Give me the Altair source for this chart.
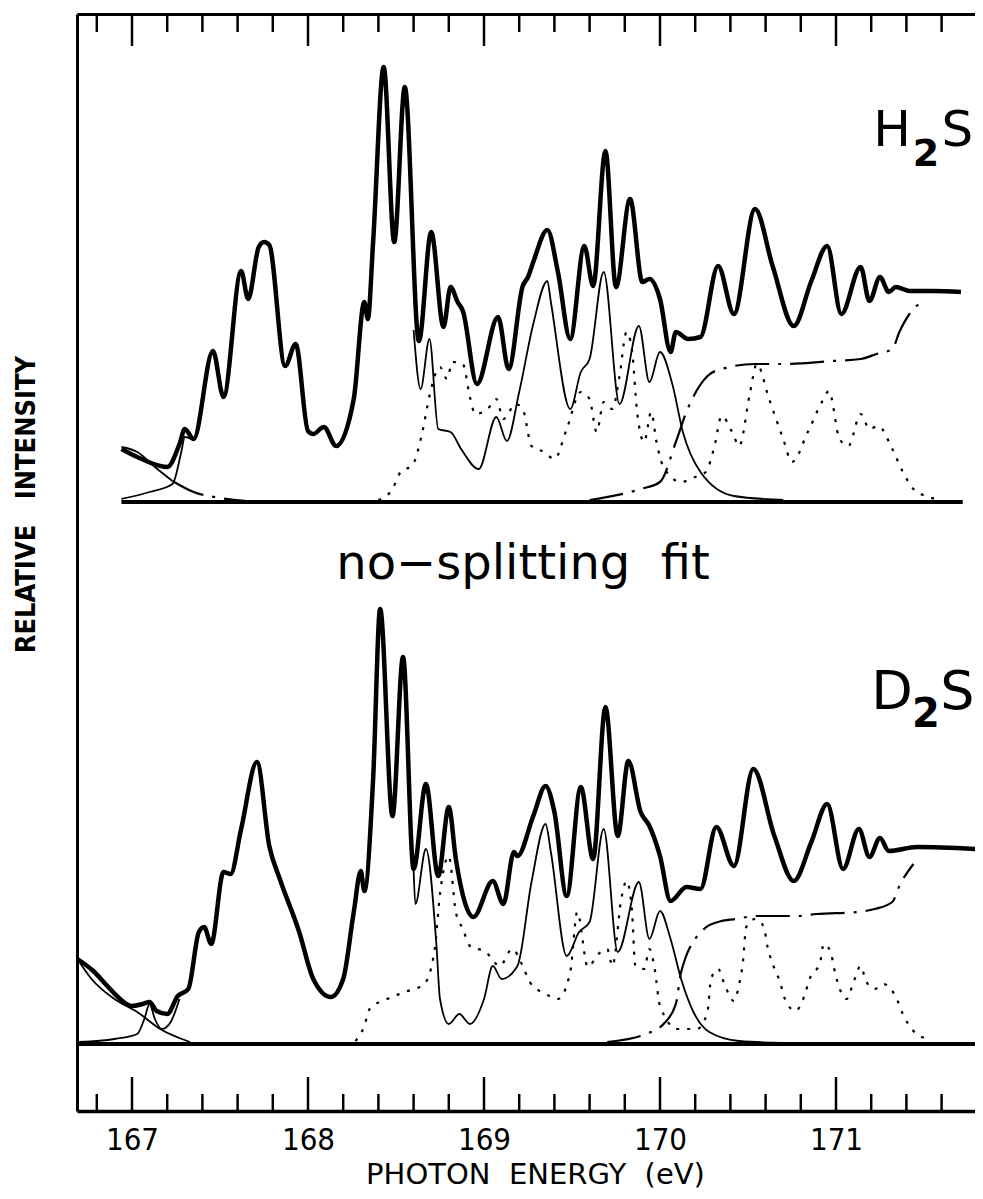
import altair as alt
import pandas as pd

# ---------------- data ----------------
# heights above each spectrum's own baseline (arbitrary units), photon energy in eV
UPPER_OFFSET = 542  # vertical offset of the H2S spectrum

# H2S experimental spectrum (thick)
h2s_E = [166.94, 167.03, 167.20, 167.27, 167.30, 167.35, 167.46, 167.52, 167.62, 167.66,
         167.72, 167.75, 167.78, 167.87, 167.93, 168.00, 168.03, 168.09, 168.16, 168.26,
         168.32, 168.34, 168.37, 168.43, 168.49, 168.55, 168.63, 168.70, 168.77, 168.81,
         168.85, 168.88, 168.96, 169.08, 169.14, 169.22, 169.25, 169.28, 169.36, 169.42,
         169.49, 169.57, 169.62, 169.69, 169.75, 169.83, 169.90, 169.94, 170.00, 170.06,
         170.09, 170.16, 170.23, 170.33, 170.42, 170.54, 170.64, 170.76, 170.86, 170.95,
         171.03, 171.14, 171.19, 171.25, 171.30, 171.34, 171.42, 171.55, 171.71]
h2s_I = [53, 45, 35, 58, 73, 63, 151, 105, 231, 203,
         255, 260, 257, 136, 158, 71, 68, 75, 56, 103,
         200, 183, 260, 435, 260, 415, 161, 270, 175, 215,
         200, 191, 118, 185, 133, 216, 225, 240, 272, 230,
         163, 256, 216, 351, 215, 303, 220, 223, 203, 150,
         170, 163, 165, 236, 188, 293, 236, 176, 221, 256,
         188, 235, 201, 225, 210, 215, 211, 211, 210]

# H2S thin solid component (left piece and right piece)
h2s_thinA_E = [166.94, 167.10, 167.23, 167.28, 167.30, 167.35]
h2s_thinA_I = [3, 10, 18, 50, 65, 62]
h2s_thinB_E = [168.60, 168.64, 168.69, 168.74, 168.81, 168.87, 168.97, 169.07, 169.13, 169.20,
               169.28, 169.36, 169.38, 169.49, 169.55, 169.60, 169.68, 169.77, 169.88, 169.94,
               170.00, 170.07, 170.13, 170.23, 170.42, 170.70]
h2s_thinB_I = [172, 113, 163, 73, 70, 53, 33, 85, 61, 110,
               178, 221, 200, 93, 130, 143, 230, 98, 176, 120,
               150, 118, 70, 30, 6, 2]

# H2S background tail on the left (thin solid then dash-dot)
h2s_bg_E = [166.94, 167.03, 167.13, 167.23]
h2s_bg_I = [55, 50, 35, 21]
h2s_bgtail_E = [167.23, 167.35, 167.50, 167.65]
h2s_bgtail_I = [21, 10, 4, 1]

# H2S dotted component
h2s_dot_E = [168.40, 168.48, 168.53, 168.59, 168.65, 168.69, 168.75, 168.79, 168.82, 168.88,
             168.92, 168.95, 169.02, 169.07, 169.11, 169.18, 169.22, 169.27, 169.34, 169.40,
             169.47, 169.55, 169.60, 169.64, 169.68, 169.73, 169.77, 169.81, 169.84, 169.87,
             169.91, 169.95, 169.98, 170.02, 170.12, 170.20, 170.26, 170.31, 170.35, 170.41,
             170.45, 170.51, 170.55, 170.62, 170.70, 170.75, 170.84, 170.92, 170.96, 171.02,
             171.07, 171.14, 171.19, 171.24, 171.32, 171.38, 171.44, 171.51, 171.60]
h2s_dot_I = [2, 13, 31, 36, 70, 106, 135, 123, 140, 138,
             105, 88, 93, 103, 83, 98, 93, 56, 50, 43,
             73, 110, 103, 70, 100, 93, 126, 170, 153, 90,
             60, 90, 60, 35, 20, 25, 30, 56, 86, 70,
             56, 108, 138, 103, 63, 40, 70, 100, 111, 63,
             56, 88, 73, 76, 53, 30, 13, 6, 2]

# H2S dash-dot ionisation edge
h2s_edge_E = [169.60, 169.89, 170.00, 170.09, 170.15, 170.27, 170.35, 170.54, 170.70, 170.98,
              171.14, 171.23, 171.32, 171.36, 171.44, 171.51]
h2s_edge_I = [2, 13, 20, 60, 90, 126, 133, 138, 138, 141,
              143, 148, 153, 170, 193, 201]

# D2S experimental spectrum (thick)
d2s_E = [166.69, 166.78, 166.86, 166.92, 167.00, 167.06, 167.10, 167.14, 167.20, 167.26,
         167.32, 167.38, 167.41, 167.45, 167.52, 167.56, 167.62, 167.71, 167.78, 167.84,
         167.95, 168.03, 168.13, 168.20, 168.26, 168.30, 168.32, 168.37, 168.41, 168.48,
         168.54, 168.60, 168.67, 168.74, 168.80, 168.84, 168.94, 169.05, 169.11, 169.17,
         169.19, 169.28, 169.35, 169.40, 169.47, 169.55, 169.62, 169.69, 169.76, 169.82,
         169.89, 169.94, 170.00, 170.06, 170.15, 170.23, 170.32, 170.42, 170.53, 170.65,
         170.76, 170.86, 170.95, 171.04, 171.13, 171.19, 171.25, 171.30, 171.46, 171.80]
d2s_I = [85, 73, 58, 47, 38, 40, 42, 33, 30, 48,
         55, 112, 117, 100, 172, 170, 215, 282, 198, 165,
         112, 65, 47, 65, 132, 173, 153, 265, 435, 228,
         387, 175, 260, 168, 237, 185, 127, 163, 140, 192,
         188, 228, 258, 232, 148, 257, 185, 337, 208, 283,
         232, 218, 188, 143, 157, 155, 217, 178, 275, 208,
         163, 202, 240, 175, 215, 187, 206, 193, 197, 195]

# D2S thin solid component
d2s_thinA_E = [166.70, 166.90, 167.03, 167.07, 167.10, 167.13, 167.17, 167.22, 167.27]
d2s_thinA_I = [2, 5, 10, 25, 40, 25, 15, 22, 45]
d2s_thinB_E = [168.60, 168.61, 168.67, 168.73, 168.75, 168.80, 168.86, 168.92, 169.00, 169.05,
               169.10, 169.19, 169.27, 169.35, 169.38, 169.47, 169.54, 169.60, 169.68, 169.76,
               169.88, 169.94, 170.00, 170.06, 170.12, 170.19, 170.28, 170.45, 170.70]
d2s_thinB_I = [175, 140, 195, 98, 45, 20, 30, 20, 45, 78,
               65, 78, 162, 220, 192, 88, 112, 122, 215, 92,
               162, 105, 133, 105, 65, 32, 12, 3, 1]

# D2S background tail on the left
d2s_bg_E = [166.69, 166.77, 166.90, 167.03, 167.16, 167.33]
d2s_bg_I = [85, 65, 45, 32, 15, 2]

# D2S dotted component
d2s_dot_E = [168.27, 168.32, 168.35, 168.45, 168.55, 168.66, 168.72, 168.75, 168.80, 168.84,
             168.88, 168.92, 169.01, 169.09, 169.16, 169.22, 169.26, 169.35, 169.42, 169.49,
             169.53, 169.59, 169.65, 169.70, 169.73, 169.78, 169.81, 169.84, 169.86, 169.91,
             169.94, 169.97, 170.00, 170.10, 170.21, 170.27, 170.29, 170.33, 170.37, 170.42,
             170.45, 170.47, 170.49, 170.54, 170.59, 170.61, 170.64, 170.68, 170.71, 170.77,
             170.82, 170.85, 170.91, 170.93, 170.97, 170.99, 171.06, 171.10, 171.14, 171.17,
             171.22, 171.27, 171.34, 171.38, 171.43, 171.52]
d2s_dot_I = [3, 18, 35, 45, 52, 60, 95, 150, 188, 132,
             115, 98, 92, 78, 95, 78, 62, 50, 45, 72,
             132, 77, 90, 95, 78, 145, 163, 135, 78, 75,
             95, 75, 38, 15, 15, 32, 65, 75, 58, 43,
             60, 80, 117, 125, 117, 98, 80, 63, 45, 33,
             48, 65, 82, 100, 92, 75, 45, 62, 78, 63,
             55, 60, 47, 30, 15, 5]

# D2S dash-dot ionisation edge
d2s_edge_E = [169.70, 169.92, 170.02, 170.09, 170.12, 170.25, 170.33, 170.43, 170.55, 170.78,
              170.89, 171.12, 171.22, 171.32, 171.36, 171.44]
d2s_edge_I = [2, 10, 20, 40, 72, 115, 122, 125, 128, 128,
              130, 132, 135, 142, 158, 180]

# zero lines
h2s_zero_E = [166.94, 171.72]
d2s_zero_E = [166.69, 171.80]

# axis ticks (eV)
major_ticks = [167, 168, 169, 170, 171]
minor_ticks = [166.8, 167.2, 167.4, 167.6, 167.8, 168.2, 168.4, 168.6, 168.8,
               169.2, 169.4, 169.6, 169.8, 170.2, 170.4, 170.6, 170.8, 171.2,
               171.4, 171.6]

# ---------------- build tables ----------------
rows = []


def add(E, I, style, seg, off):
    for e, i in zip(E, I):
        rows.append({"E": e, "I": i + off, "style": style, "seg": seg})


add(h2s_E, h2s_I, "data", "h_data", UPPER_OFFSET)
add(h2s_thinA_E, h2s_thinA_I, "thin", "h_thinA", UPPER_OFFSET)
add(h2s_thinB_E, h2s_thinB_I, "thin", "h_thinB", UPPER_OFFSET)
add(h2s_bg_E, h2s_bg_I, "thin", "h_bg", UPPER_OFFSET)
add(h2s_bgtail_E, h2s_bgtail_I, "dashdot", "h_bgtail", UPPER_OFFSET)
add(h2s_dot_E, h2s_dot_I, "dot", "h_dot", UPPER_OFFSET)
add(h2s_edge_E, h2s_edge_I, "dashdot", "h_edge", UPPER_OFFSET)
add(h2s_zero_E, [0, 0], "zero", "h_zero", UPPER_OFFSET)

add(d2s_E, d2s_I, "data", "d_data", 0)
add(d2s_thinA_E, d2s_thinA_I, "thin", "d_thinA", 0)
add(d2s_thinB_E, d2s_thinB_I, "thin", "d_thinB", 0)
add(d2s_bg_E, d2s_bg_I, "thin", "d_bg", 0)
add(d2s_dot_E, d2s_dot_I, "dot", "d_dot", 0)
add(d2s_edge_E, d2s_edge_I, "dashdot", "d_edge", 0)
add(d2s_zero_E, [0, 0], "zero", "d_zero", 0)

df = pd.DataFrame(rows)

ticks_df = pd.DataFrame(
    [{"t": t, "kind": "major"} for t in major_ticks]
    + [{"t": t, "kind": "minor"} for t in minor_ticks]
)

label_df = pd.DataFrame([
    {"E": 171.318, "I": 898, "txt": "H", "size": 50},
    {"E": 171.690, "I": 898, "txt": "S", "size": 50},
    {"E": 171.318, "I": 335, "txt": "D", "size": 54},
    {"E": 171.690, "I": 335, "txt": "S", "size": 54},
    {"E": 169.222, "I": 465, "txt": "no\u2212splitting\u00a0 fit", "size": 48},
])
sub_df = pd.DataFrame([
    {"E": 171.511, "I": 878, "txt": "2", "size": 38},
    {"E": 171.511, "I": 317, "txt": "2", "size": 40},
])

# ---------------- chart ----------------
XMIN, XMAX = 166.6875, 171.7898
YMIN, YMAX = -67, 1030
PLOT_W, PLOT_H = 898, 1097
FONT = "DejaVu Sans"
FONT_C = "DejaVu Sans Condensed, DejaVu Sans"

xs = alt.Scale(domain=[XMIN, XMAX], nice=False, zero=False)
ys = alt.Scale(domain=[YMIN, YMAX], nice=False, zero=False)

base = alt.Chart(df)


def lines(style, **mk):
    return base.transform_filter(alt.datum.style == style).mark_line(
        color="black", interpolate="monotone", **mk
    ).encode(
        x=alt.X("E:Q", scale=xs, axis=None),
        y=alt.Y("I:Q", scale=ys, axis=None),
        detail="seg:N",
    )


bottom_axis = alt.Axis(
    orient="bottom", values=major_ticks, format="d", ticks=False, tickSize=0,
    domain=True, domainColor="black", domainWidth=3.5, grid=False,
    labelFont=FONT_C, labelFontSize=31, labelColor="black",
    labelPadding=38, labelBaseline="alphabetic",
    title="PHOTON\u00a0 ENERGY\u00a0 (eV)", titleFont=FONT, titleFontSize=29,
    titleFontWeight="normal", titleColor="black",
    titleBaseline="alphabetic", titleY=72, titleX=458,
)
left_axis = alt.Axis(
    orient="left", ticks=False, labels=False, domain=True, domainColor="black",
    domainWidth=3, grid=False,
    title="RELATIVE\u00a0\u00a0 INTENSITY", titleFont=FONT_C, titleFontSize=27,
    titleFontWeight="bold", titleColor="black", titleAngle=270,
    titleBaseline="alphabetic", titleAlign="center", titleX=-43, titleY=490,
)
top_axis = alt.Axis(
    orient="top", ticks=False, labels=False, domain=True, domainColor="black",
    domainWidth=3, grid=False, title=None,
)

data_layer = base.transform_filter(alt.datum.style == "data").mark_line(
    color="black", interpolate="monotone", strokeWidth=4.5, strokeJoin="round"
).encode(
    x=alt.X("E:Q", scale=xs, axis=bottom_axis),
    y=alt.Y("I:Q", scale=ys, axis=left_axis),
    detail="seg:N",
)

zero_layer = lines("zero", strokeWidth=4)
thin_layer = lines("thin", strokeWidth=1.8)
dot_layer = lines("dot", strokeWidth=2.2, strokeDash=[3, 8])
dashdot_layer = lines("dashdot", strokeWidth=2.2, strokeDash=[34, 9, 3, 9])

tk = alt.Chart(ticks_df)
top_major = tk.transform_filter(alt.datum.kind == "major").mark_rule(
    color="black", strokeWidth=2.5
).encode(
    x=alt.X("t:Q", scale=xs, axis=top_axis),
    y=alt.value(0), y2=alt.value(32),
)
top_minor = tk.transform_filter(alt.datum.kind == "minor").mark_rule(
    color="black", strokeWidth=2.5
).encode(
    x=alt.X("t:Q", scale=xs, axis=None),
    y=alt.value(0), y2=alt.value(18),
)
bot_major = tk.transform_filter(alt.datum.kind == "major").mark_rule(
    color="black", strokeWidth=2.5
).encode(
    x=alt.X("t:Q", scale=xs, axis=None),
    y=alt.value(PLOT_H), y2=alt.value(PLOT_H - 34),
)
bot_minor = tk.transform_filter(alt.datum.kind == "minor").mark_rule(
    color="black", strokeWidth=2.5
).encode(
    x=alt.X("t:Q", scale=xs, axis=None),
    y=alt.value(PLOT_H), y2=alt.value(PLOT_H - 17),
)

labels = alt.Chart(label_df).mark_text(
    font=FONT, color="black", baseline="alphabetic", align="center"
).encode(
    x=alt.X("E:Q", scale=xs, axis=None),
    y=alt.Y("I:Q", scale=ys, axis=None),
    text="txt:N",
    size=alt.Size("size:Q", scale=None, legend=None),
)
subs = alt.Chart(sub_df).mark_text(
    font=FONT, color="black", baseline="alphabetic", align="center", fontWeight="bold"
).encode(
    x=alt.X("E:Q", scale=xs, axis=None),
    y=alt.Y("I:Q", scale=ys, axis=None),
    text="txt:N",
    size=alt.Size("size:Q", scale=None, legend=None),
)

chart = alt.layer(
    data_layer, zero_layer, thin_layer, dot_layer, dashdot_layer,
    top_major, top_minor, bot_major, bot_minor, labels, subs,
).resolve_axis(x="independent", y="independent").properties(
    width=PLOT_W, height=PLOT_H,
    padding={"left": 69, "top": 6, "right": 0, "bottom": 80},
    autosize=alt.AutoSizeParams(type="none"),
    background="white",
).configure_view(stroke=None)

chart.save("out.html", embed_options={"renderer": "svg", "actions": False})
